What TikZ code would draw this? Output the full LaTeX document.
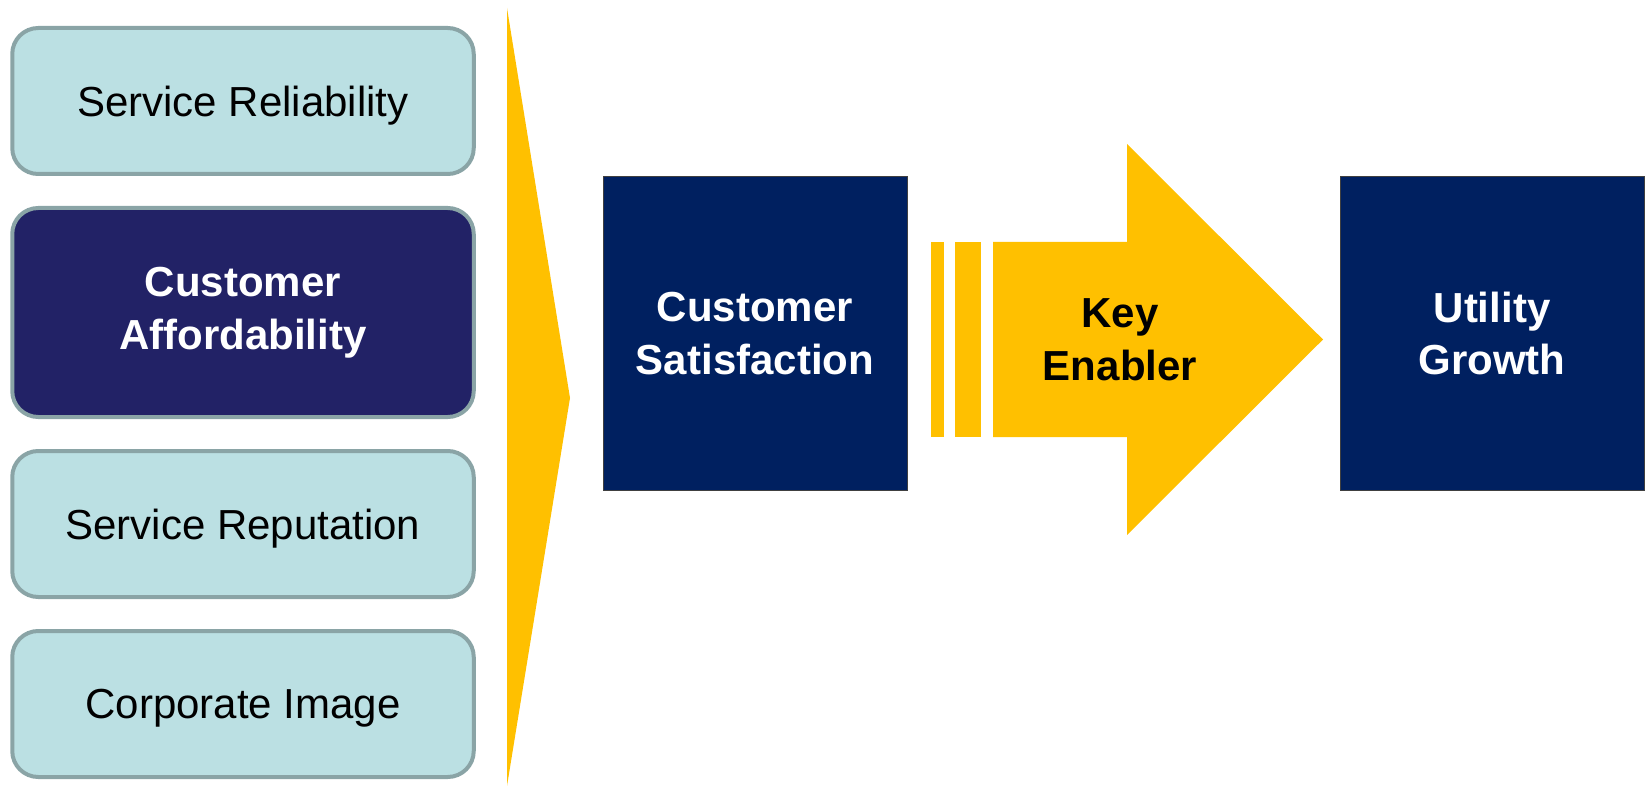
\documentclass[tikz,border=0pt]{standalone}
\usepackage{fontspec}
\setmainfont{Liberation Sans}
\usetikzlibrary{positioning}
\definecolor{paleteal}{HTML}{BBE0E3}
\definecolor{tealedge}{HTML}{8AA4A6}
\definecolor{deepnavy}{HTML}{002060}
\definecolor{indigo}{HTML}{222266}
\definecolor{amber}{HTML}{FFC000}

\begin{document}
\begin{tikzpicture}[
  x=0.5pt, y=-0.5pt,
  panel/.style={draw=tealedge, line width=2pt, rounded corners=13pt, fill=paleteal,
    minimum width=230.75pt, minimum height=73pt, inner sep=0pt, align=center,
    font=\fontsize{21}{26.3}\selectfont},
  factor/.style={panel, text depth=0pt},
  keyfactor/.style={panel, fill=indigo, text=white, minimum height=104.5pt,
    font=\fontsize{21}{26.3}\selectfont\bfseries},
  outcome/.style={draw=black!75, line width=0.5pt, fill=deepnavy, text=white,
    minimum width=152pt, minimum height=156.5pt, inner sep=0pt, align=center,
    font=\fontsize{21}{26.3}\selectfont\bfseries}
]
\useasboundingbox (0,0) rectangle (1650,786);

% Drivers
\node[factor] (reliab) at (243,101) {Service Reliability};
\node[keyfactor, below=15pt of reliab] (afford) {Customer\\Affordability};
\node[factor, below=15pt of afford] (reput) {Service Reputation};
\node[factor, below=15pt of reput] (image) {Corporate Image};

% Chevron
\fill[amber] (507,8) -- (570,398) -- (507,786) -- cycle;

% Outcomes
\node[outcome] (satisf) at (755,333.5) {Customer\\Satisfaction};
\node[outcome, right=216pt of satisf] (growth) {Utility\\Growth};

% Striped arrow
\fill[amber] (931,242) rectangle (944,437);
\fill[amber] (955,242) rectangle (981,437);
\fill[amber] (993,242) -- (1127,242) -- (1127,144) -- (1323,339.5)
  -- (1127,535) -- (1127,437) -- (993,437) -- cycle;
\node[align=center, font=\fontsize{21}{26.3}\selectfont\bfseries] (enabler) at (1120,340) {Key\\Enabler};

\end{tikzpicture}
\end{document}
